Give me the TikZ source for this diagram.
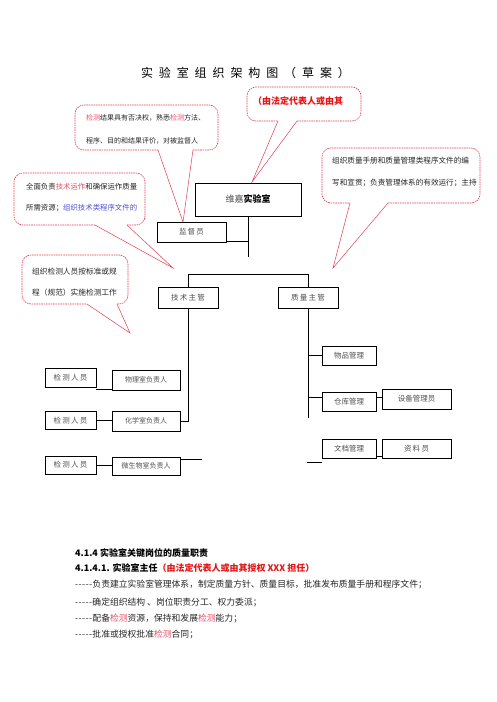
\documentclass[tikz,border=0pt]{standalone}
\usepackage{fontspec}
\setmainfont{Noto Sans CJK SC}
\usetikzlibrary{calc}
\definecolor{calred}{RGB}{226,64,84}
\definecolor{pinkred}{RGB}{232,80,106}
\definecolor{boldred}{RGB}{230,20,20}
\definecolor{cblue}{RGB}{80,80,210}
\definecolor{boxtext}{RGB}{80,80,80}
\newcommand\bubble[7]{%
  \draw[bubbleline] (#6,#4) -- (#3,#4) -- (#3,#2) -- (#1,#2) -- (#1,#4) -- (#5,#4);
  \draw[tailline] (#5,#4) -- #7 -- (#6,#4);}
\newcommand\dashes{-\kern0.4pt-\kern0.4pt-\kern0.4pt-\kern0.4pt-\kern0.4pt}
\begin{document}
\begin{tikzpicture}[x=1pt,y=-1pt,
  bubbleline/.style={draw=calred,line width=0.6pt,dash pattern=on 1.6pt off 0.8pt,rounded corners=9pt},
  tailline/.style={draw=calred,line width=0.5pt},
  orgbox/.style={draw=black,line width=0.8pt,inner sep=0pt,font=\fontsize{7.5}{9}\selectfont,text=boxtext},
  bubtext/.style={anchor=west,inner sep=0pt,font=\fontsize{7}{8}\selectfont,text=black!85},
  bodytext/.style={anchor=west,inner sep=0pt,font=\fontsize{8.8}{10}\selectfont,text=black!85},
  titlech/.style={inner sep=0pt,font=\fontsize{12}{13}\selectfont}]
\useasboundingbox[fill=white] (0,0) rectangle (496,702);

% title
\foreach \c [count=\i] in {实,验,室,组,织,架,构,图,（,草,案,）}
  \node[titlech] (t\i) at ({147+(\i-1)*17.9},73) {\c};

% callouts
\bubble{75}{105}{218}{150}{158}{193}{(183,222)}
\node[bubtext] (b1a) at (86,118) {\textcolor{pinkred}{检测}结果具有否决权，熟悉\textcolor{pinkred}{检测}方法、};
\node[bubtext] (b1b) at (86,141) {程序、目的和结果评价，对被监督人};

\bubble{247}{87}{361}{121}{278}{297}{(252,182)}
\node[anchor=west,inner sep=0pt,font=\fontsize{9}{10}\selectfont\bfseries,text=boldred] (b2) at (253,101) {（由法定代表人或由其};

\bubble{322}{148}{480}{203}{350}{388}{(333,268)}
\node[bubtext,font=\fontsize{7.6}{9}\selectfont] (b3a) at (332,161) {组织质量手册和质量管理类程序文件的编};
\node[bubtext,font=\fontsize{7.6}{9}\selectfont] (b3b) at (332,183) {写和宣贯；负责管理体系的有效运行；主持};

\bubble{14}{173}{145}{225}{95}{127}{(173,268)}
\node[bubtext,font=\fontsize{7.4}{9}\selectfont] (b4a) at (26,187) {全面负责\textcolor{pinkred}{技术运作}和确保运作质量};
\node[bubtext,font=\fontsize{7.4}{9}\selectfont] (b4b) at (26,208) {所需资源；\textcolor{cblue}{组织技术类程序文件的}};

\bubble{22}{255}{128}{304}{87}{117}{(130,333)}
\node[bubtext,font=\fontsize{7.7}{9}\selectfont] (b5a) at (32,272) {组织检测人员按标准或规};
\node[bubtext,font=\fontsize{7.7}{9}\selectfont] (b5b) at (32,293) {程（规范）实施检测工作};

% org boxes
\node[orgbox,minimum width=106pt,minimum height=33pt,font=\fontsize{9}{10}\selectfont] (wj) at (248,199.5) {\textcolor{boxtext}{维嘉}\textcolor{black}{\bfseries 实验室}};
\node[orgbox,minimum width=69pt,minimum height=20pt] (jdy) at (191.5,232) {监\,督\,员};
\node[orgbox,minimum width=60pt,minimum height=21pt] (js) at (188,297.5) {技\,术\,主\,管};
\node[orgbox,minimum width=60pt,minimum height=21pt] (zl) at (308,297.5) {质\,量\,主\,管};

\node[orgbox,minimum width=51pt,minimum height=19pt] (jc1) at (70.5,377.5) {检\,测\,人\,员};
\node[orgbox,minimum width=51pt,minimum height=18pt] (jc2) at (70.5,420.5) {检\,测\,人\,员};
\node[orgbox,minimum width=51pt,minimum height=18pt] (jc3) at (70.5,465) {检\,测\,人\,员};
\node[orgbox,minimum width=68pt,minimum height=20pt,font=\fontsize{7}{8}\selectfont] (wl) at (146,380) {物理室负责人};
\node[orgbox,minimum width=68pt,minimum height=20pt,font=\fontsize{7}{8}\selectfont] (hx) at (146,421) {化学室负责人};
\node[orgbox,minimum width=68pt,minimum height=18pt,font=\fontsize{7}{8}\selectfont] (ws) at (146,466) {微生物室负责人};

\node[orgbox,minimum width=54pt,minimum height=19pt] (wp) at (349,355.5) {物品管理};
\node[orgbox,minimum width=54pt,minimum height=19pt] (ck) at (349,401.5) {仓库管理};
\node[orgbox,minimum width=54pt,minimum height=19pt] (wd) at (349,448.5) {文档管理};
\node[orgbox,minimum width=69pt,minimum height=20pt] (sb) at (416.5,399) {设备管理员};
\node[orgbox,minimum width=69pt,minimum height=19pt] (zly) at (416.5,448.5) {资\,料\,员};

% connectors
\begin{scope}[line width=0.8pt]
\coordinate (wjend) at (248,257);
\draw (wj.south) -- (wjend);
\draw ([yshift=1pt]jdy.south east) -- ([yshift=1pt]jdy.south east -| wj.south);
\draw (js.north) -- (js.north |- 0,274) -| (zl.north);
\draw (js.south) |- (hx.east);
\draw ([yshift=1pt]wl.south west) -- ([yshift=1pt]wl.south west -| jc1.east);
\draw (jc2.east) -- (hx.west |- jc2.east);
\draw (jc3.east) -- (ws.west |- jc3.east);
\coordinate (wsend) at (202,459);
\draw (ws.east |- wsend) -- (wsend);
\coordinate (zlend) at (308,418);
\draw (zl.south) -- (zlend);
\draw (zl.south |- wp.west) -- (wp.west);
\draw (zl.south |- 0,397) -- (ck.west |- 0,397);
\draw (ck.east |- 0,397) -- (sb.west |- 0,397);
\draw ([yshift=2pt]wd.south east) -- ([yshift=2pt]wd.south east -| zly.west);
\coordinate (stubA) at (307,462);
\coordinate (stubB) at (322,462);
\draw (stubA) -- (stubB);
\end{scope}

% body text
\node[bodytext,font=\fontsize{9}{10}\selectfont\bfseries,text=black] (l1) at (75,553) {4.1.4 实验室关键岗位的质量职责};
\node[bodytext,font=\fontsize{9}{10}\selectfont\bfseries,text=black] (l2) at (75,568) {4.1.4.1. 实验室主任\textcolor{boldred}{（由法定代表人或由其授权 XXX 担任）}};
\node[bodytext] (l3) at (75,584) {\dashes 负责建立实验室管理体系，制定质量方针、质量目标，批准发布质量手册和程序文件；};
\node[bodytext] (l4) at (75,602) {\dashes 确定组织结构 、岗位职责分工、权力委派；};
\node[bodytext] (l5) at (75,618) {\dashes 配备\textcolor{pinkred}{检测}资源，保持和发展\textcolor{pinkred}{检测}能力；};
\node[bodytext] (l6) at (75,634) {\dashes 批准或授权批准\textcolor{pinkred}{检测}合同；};
\end{tikzpicture}
\end{document}
